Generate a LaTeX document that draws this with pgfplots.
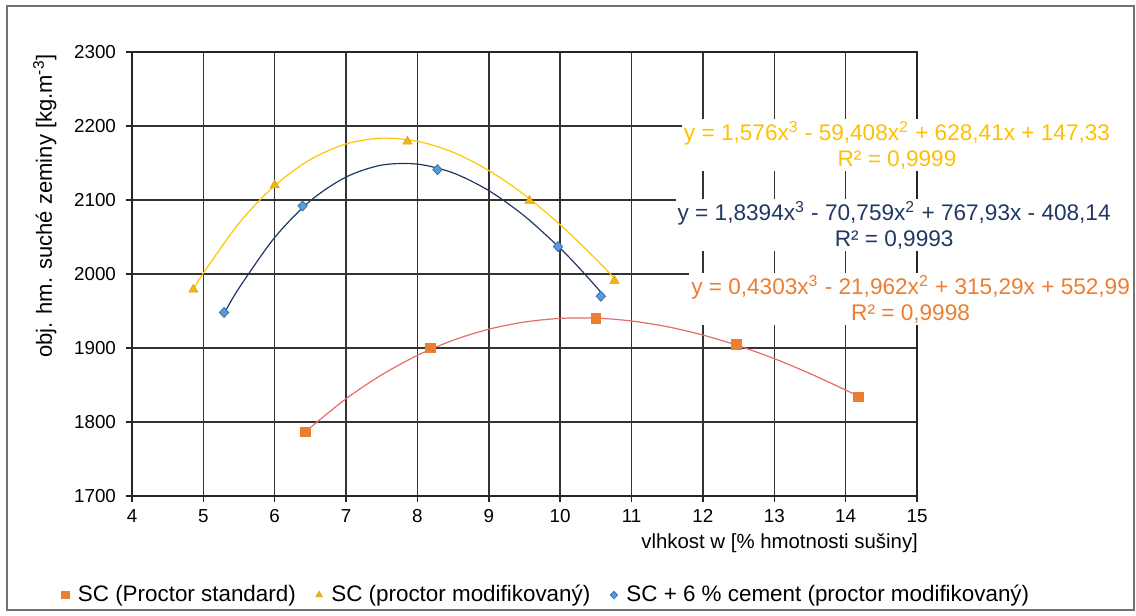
\documentclass[border=0pt]{standalone}
\usepackage{pgfplots}
\pgfplotsset{compat=1.18}
\usepackage{fontspec}
\setmainfont{Liberation Sans}
\definecolor{omark}{RGB}{237,125,49}
\definecolor{oline}{RGB}{226,110,105}
\definecolor{otext}{RGB}{237,125,49}
\definecolor{ymark}{RGB}{240,182,20}
\definecolor{ymarkd}{RGB}{215,160,10}
\definecolor{yline}{RGB}{255,198,0}
\definecolor{ytext}{RGB}{255,192,0}
\definecolor{bmark}{RGB}{91,155,213}
\definecolor{bmarkd}{RGB}{46,117,182}
\definecolor{bline}{RGB}{32,56,100}
\definecolor{btext}{RGB}{32,56,100}
\begin{document}
\begin{tikzpicture}
\begin{axis}[
  scale only axis, width=392.5pt, height=222pt,
  xmin=4, xmax=15, ymin=1700, ymax=2300,
  xtick={4,5,...,15}, ytick={1700,1800,...,2300},
  tick pos=left,
  grid=major, major grid style={black!80, line width=0.7pt},
  axis line style={black!85, line width=0.8pt},
  tick align=outside, major tick length=3pt,
  tick style={black!85, line width=0.7pt},
  tick label style={font=\fontsize{9.4}{11}\selectfont},
  yticklabel style={xshift=-1.5pt},
  /pgf/number format/assume math mode=true,
  /pgf/number format/1000 sep={},
  xlabel={vlhkost w [\% hmotnosti sušiny]},
  xlabel style={font=\fontsize{10.2}{12}\selectfont, at={(axis description cs:0.825,-0.106)}, anchor=center},
  ylabel={obj. hm. suché zeminy [kg.m\textsuperscript{-3}]},
  ylabel style={font=\fontsize{11}{13}\selectfont, at={(axis description cs:-0.111,0.653)}, anchor=center},
  clip=false,
  legend columns=3,
  legend style={draw=none, fill=none, at={(axis description cs:0.529,-0.223)}, anchor=center,
    font=\fontsize{11.2}{13}\selectfont,
    /tikz/every odd column/.append style={column sep=2.5pt},
    /tikz/every even column/.append style={column sep=8pt}},
  legend image code/.code={\draw[#1, mark size=1.9pt] plot coordinates {(0cm,0cm)};},
]
% trendlines (cubic fits shown in the chart)
\addplot[yline, line width=0.6pt, smooth, forget plot] coordinates {
(4.85,1977.5) (5,2001.2) (5.5,2068.7) (6,2119.5) (6.5,2154.8) (7,2175.8) (7.5,2183.6) (8,2179.4) (8.5,2164.5) (9,2139.9) (9.5,2106.9) (10,2066.6) (10.5,2020.3) (10.8,1990.1)};
\addplot[bline, line width=0.6pt, smooth, forget plot] coordinates {
(5.3,1948.1) (5.5,1981.1) (6,2049.4) (6.5,2099.0) (7,2131.1) (7.5,2147.2) (8,2148.5) (8.5,2136.6) (9,2112.7) (9.5,2078.3) (10,2034.7) (10.3,2004.7) (10.6,1972.2)};
\addplot[oline, line width=0.6pt, smooth, forget plot] coordinates {
(6.43,1787) (7,1831.5) (7.5,1863.8) (8,1890.1) (8.5,1910.5) (9,1925.4) (9.5,1935.1) (10,1940.0) (10.5,1940.4) (11,1936.5) (11.5,1928.8) (12,1917.5) (12.5,1903.0) (13,1885.6) (13.5,1865.5) (14,1843.2) (14.2,1833.8)};
% data
\addplot[only marks, mark=square*, mark size=2.3pt, mark options={fill=omark, draw=omark}] coordinates {
(6.43,1787) (8.18,1900) (10.5,1940) (12.47,1905) (14.18,1834)};
\addlegendentry{SC (Proctor standard)}
\addplot[only marks, mark=triangle*, mark size=2.6pt, mark options={fill=ymark, draw=ymarkd, line width=0.3pt}] coordinates {
(4.86,1979) (6.0,2120) (7.86,2179) (9.57,2099) (10.76,1991)};
\addlegendentry{SC (proctor modifikovaný)}
\addplot[only marks, mark=diamond*, mark size=2.5pt, mark options={fill=bmark, draw=bmarkd, line width=0.4pt, xscale=1.25}] coordinates {
(5.29,1948) (6.39,2092) (8.28,2141) (9.97,2037) (10.57,1970)};
\addlegendentry{SC + 6 \% cement (proctor modifikovaný)}
% equation labels
\node[fill=white, inner sep=1pt, align=center, text=ytext, font=\fontsize{11.3}{13}\selectfont] at (axis cs:14.72,2174) {y = 1,576x\textsuperscript{3} - 59,408x\textsuperscript{2} + 628,41x + 147,33\\R² = 0,9999};
\node[fill=white, inner sep=1pt, align=center, text=btext, font=\fontsize{11.3}{13}\selectfont] at (axis cs:14.68,2066) {y = 1,8394x\textsuperscript{3} - 70,759x\textsuperscript{2} + 767,93x - 408,14\\R² = 0,9993};
\node[fill=white, inner sep=1pt, align=center, text=otext, font=\fontsize{11.3}{13}\selectfont] at (axis cs:14.91,1966) {y = 0,4303x\textsuperscript{3} - 21,962x\textsuperscript{2} + 315,29x + 552,99\\R² = 0,9998};
% outer frame and page extent
\draw[black!55, line width=0.6pt] ([xshift=-62.5pt,yshift=-57pt]rel axis cs:0,0) rectangle ([xshift=108.5pt,yshift=23pt]rel axis cs:1,1);
\path ([xshift=-66pt,yshift=-60pt]rel axis cs:0,0) rectangle ([xshift=109.5pt,yshift=26pt]rel axis cs:1,1);
\end{axis}
\end{tikzpicture}
\end{document}
